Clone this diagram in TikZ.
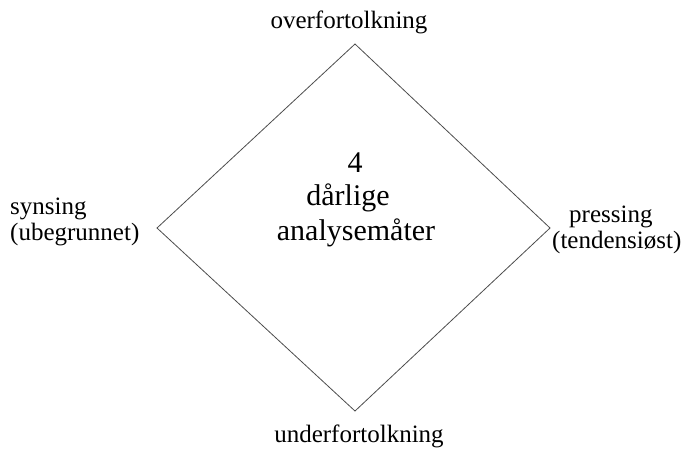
\documentclass[tikz,border=0pt]{standalone}
\usepackage{fontspec}
\setmainfont{Liberation Serif}
\begin{document}
\begin{tikzpicture}[x=1pt,y=-1pt,
  lbl/.style={inner sep=0pt,font=\fontsize{25}{27}\selectfont},
  mid/.style={inner sep=0pt,font=\fontsize{30}{34}\selectfont},
  edge/.style={draw=black!70,line width=0.8pt,line join=miter}]
\useasboundingbox (0,0) rectangle (687,448);
\coordinate (T) at (355,44);
\coordinate (R) at (550,228);
\coordinate (B) at (355,411);
\coordinate (L) at (157,228);
\draw[edge] (T) -- (R) -- (B) -- (L) -- cycle;
\node[lbl,anchor=base] (over) at (349,28) {overfortolkning};
\node[lbl,anchor=base] (under) at (359,442) {underfortolkning};
\node[lbl,anchor=base west] (syn) at (10,214) {synsing};
\node[lbl,anchor=base west] (ubeg) at (10,240) {(ubegrunnet)};
\node[lbl,anchor=base west] (press) at (569,222) {pressing};
\node[lbl,anchor=base west] (tend) at (552,248) {(tendensiøst)};
\node[mid,anchor=base] (four) at (355,172) {4};
\node[mid,anchor=base] (darl) at (348,205) {dårlige};
\node[mid,anchor=base] (anal) at (356,240) {analysemåter};
\end{tikzpicture}
\end{document}
